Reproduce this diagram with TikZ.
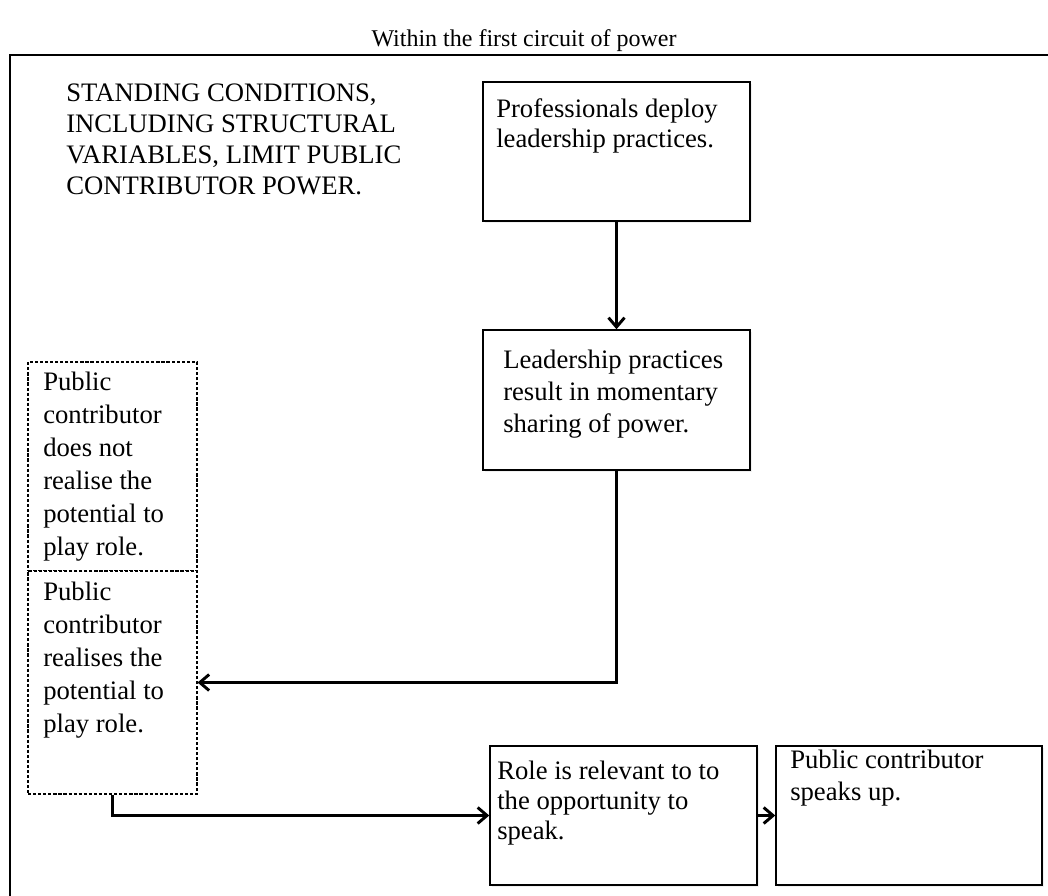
\documentclass[tikz,border=0pt]{standalone}
\usepackage{fontspec}
\setmainfont{Liberation Serif}
\usetikzlibrary{arrows.meta,fit,shadows}

\begin{document}
\begin{tikzpicture}[x=0.75pt,y=-0.75pt,
  txt/.style={anchor=north west, inner sep=0pt, align=left,
    font=\fontsize{20}{24}\selectfont},
  stepbox/.style={draw=black, line width=1.1pt, fill=white, inner sep=0pt,
    drop shadow={shadow xshift=1.2pt, shadow yshift=-1.4pt, opacity=0.12}},
  dashbox/.style={draw=black, line width=0.8pt, dash pattern=on 2.4pt off 1.4pt,
    fill=white, inner sep=0pt},
  arr/.style={line width=2.2pt, -{Straight Barb[length=7pt,width=12pt]}},
  frame/.style={draw=black, line width=1.5pt}
]
\path[use as bounding box] (0,0) rectangle (1048,895);

% outer frame, running past the right and bottom edges
\begin{scope}
  \clip (0,0) rectangle (1048,895);
  \draw[frame] (10,55) rectangle (1080,930);
\end{scope}

% heading
\node[anchor=base, inner sep=0pt, font=\fontsize{18}{21}\selectfont] (title) at (524,47)
  {Within the first circuit of power};

% standing conditions
\node[txt, font=\fontsize{20}{23.25}\selectfont] (cond) at (66,84)
  {STANDING CONDITIONS,\\INCLUDING STRUCTURAL\\VARIABLES, LIMIT PUBLIC\\CONTRIBUTOR POWER.};

% process boxes
\node[stepbox, fit={(483,82) (750,221)}] (b1) {};
\node[stepbox, fit={(483,330) (750,470)}] (b2) {};
\node[stepbox, fit={(490,746) (757,885)}] (b3) {};
\node[stepbox, fit={(776,746) (1042,885)}] (b4) {};

% public contributor boxes
\node[dashbox, fit={(28,362) (197,571)}] (pcA) {};
\node[dashbox, fit={(28,571) (197,794)}] (pcB) {};

% box texts
\node[txt, font=\fontsize{20}{22.5}\selectfont] (t1) at (496,98)
  {Professionals deploy\\leadership practices.};
\node[txt] (t2) at (503,350)
  {Leadership practices\\result in momentary\\sharing of power.};
\node[txt, font=\fontsize{20}{24.75}\selectfont] (tA) at (43,372)
  {Public\\contributor\\does not\\realise the\\potential to\\play role.};
\node[txt, font=\fontsize{20}{24.75}\selectfont] (tB) at (43,582)
  {Public\\contributor\\realises the\\potential to\\play role.};
\node[txt, font=\fontsize{20}{22.5}\selectfont] (t3) at (497,761)
  {Role is relevant to to\\the opportunity to\\speak.};
\node[txt] (t4) at (790,750)
  {Public contributor\\speaks up.};

% connectors
\draw[arr] (b1) -- (b2);
\draw[arr] (b2.south) |- (pcB.east);
\draw[arr] (pcB.south) |- (b3.west);
\draw[arr] (b3) -- (b4);
\end{tikzpicture}
\end{document}
